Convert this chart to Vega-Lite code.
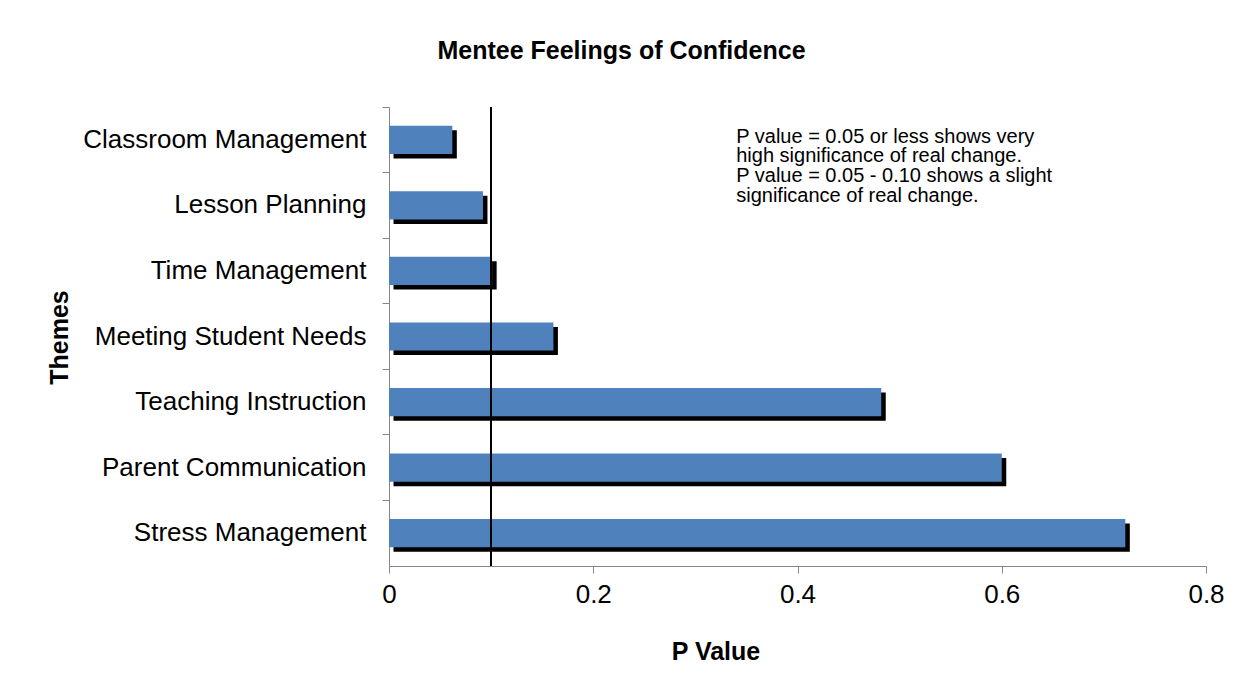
{
  "$schema": "https://vega.github.io/schema/vega-lite/v6.json",
  "width": 817,
  "height": 459,
  "autosize": "none",
  "padding": {"left": 389, "top": 107, "right": 47, "bottom": 134},
  "background": "white",
  "title": {
    "text": "Mentee Feelings of Confidence",
    "font": "Liberation Sans",
    "fontSize": 25,
    "fontWeight": "bold",
    "color": "black",
    "offset": 42,
    "dx": -176
  },
  "config": {
    "view": {"stroke": null},
    "font": "Liberation Sans"
  },
  "data": {
    "values": [
      {"theme": "Classroom Management", "p": 0.062},
      {"theme": "Lesson Planning", "p": 0.092},
      {"theme": "Time Management", "p": 0.101},
      {"theme": "Meeting Student Needs", "p": 0.161},
      {"theme": "Teaching Instruction", "p": 0.482},
      {"theme": "Parent Communication", "p": 0.600},
      {"theme": "Stress Management", "p": 0.721}
    ]
  },
  "layer": [
    {
      "mark": {
        "type": "bar",
        "color": "black",
        "height": {"band": 0.43},
        "xOffset": 4.5,
        "x2Offset": 4.5,
        "yOffset": 4.5,
        "y2Offset": 4.5
      },
      "encoding": {
        "x": {
          "field": "p",
          "type": "quantitative",
          "scale": {"domain": [0, 0.8], "nice": false},
          "axis": {
            "values": [0, 0.2, 0.4, 0.6, 0.8],
            "format": "~g",
            "grid": false,
            "labelFlush": false,
            "domainColor": "#868686",
            "tickColor": "#868686",
            "tickSize": 7,
            "labelFontSize": 26,
            "labelColor": "black",
            "labelPadding": 8,
            "title": "P Value",
            "titleFontSize": 25,
            "titleFontWeight": "bold",
            "titleColor": "black",
            "titleX": 326.5,
            "titleY": 85,
            "titleBaseline": "middle"
          }
        },
        "y": {
          "field": "theme",
          "type": "nominal",
          "sort": ["Classroom Management", "Lesson Planning", "Time Management", "Meeting Student Needs", "Teaching Instruction", "Parent Communication", "Stress Management"],
          "scale": {"paddingInner": 0, "paddingOuter": 0},
          "axis": {
            "bandPosition": 0,
            "grid": false,
            "domainColor": "#868686",
            "tickColor": "#868686",
            "tickSize": 7,
            "labelFontSize": 26,
            "labelColor": "black",
            "labelPadding": 16,
            "labelLimit": 400,
            "title": "Themes",
            "titleFontSize": 25,
            "titleFontWeight": "bold",
            "titleColor": "black",
            "titleX": -330,
            "titleY": 230,
            "titleBaseline": "middle"
          }
        }
      }
    },
    {
      "mark": {"type": "bar", "color": "#4F81BD", "height": {"band": 0.43}},
      "encoding": {
        "x": {"field": "p", "type": "quantitative"},
        "y": {"field": "theme", "type": "nominal", "sort": ["Classroom Management", "Lesson Planning", "Time Management", "Meeting Student Needs", "Teaching Instruction", "Parent Communication", "Stress Management"]}
      }
    },
    {
      "mark": {"type": "rule", "color": "black", "strokeWidth": 1.5},
      "encoding": {
        "x": {"datum": 0.1, "type": "quantitative"}
      }
    },
    {
      "data": {
        "values": [
          {"theme": "Classroom Management", "px": 0.34, "note": "P value = 0.05 or less shows very\nhigh significance of real change.\nP value = 0.05 - 0.10 shows a slight\nsignificance of real change."}
        ]
      },
      "mark": {
        "type": "text",
        "align": "left",
        "baseline": "top",
        "fontSize": 20,
        "lineHeight": 19.7,
        "lineBreak": "\n",
        "color": "black",
        "dy": -13
      },
      "encoding": {
        "x": {"field": "px", "type": "quantitative"},
        "y": {"field": "theme", "type": "nominal", "sort": ["Classroom Management", "Lesson Planning", "Time Management", "Meeting Student Needs", "Teaching Instruction", "Parent Communication", "Stress Management"]},
        "text": {"field": "note", "type": "nominal"}
      }
    }
  ]
}
